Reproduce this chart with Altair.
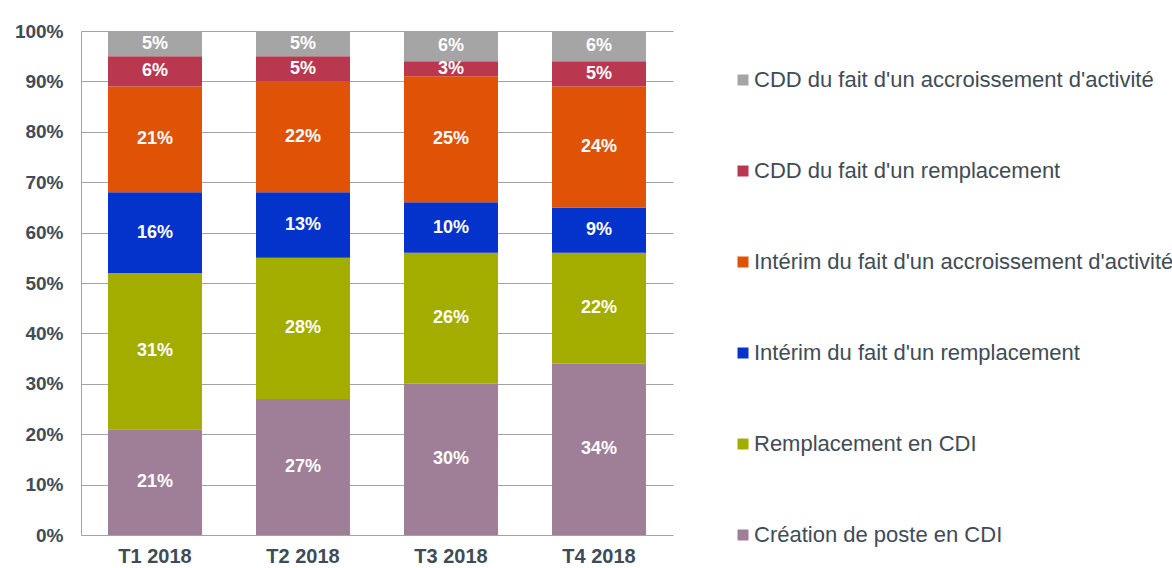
import altair as alt
import pandas as pd

quarters = ["T1 2018", "T2 2018", "T3 2018", "T4 2018"]

# series listed from bottom of the stack to the top
series = [
    "Création de poste en CDI",
    "Remplacement en CDI",
    "Intérim du fait d'un remplacement",
    "Intérim du fait d'un accroissement d'activité",
    "CDD du fait d'un remplacement",
    "CDD du fait d'un accroissement d'activité",
]
colors = ["#9f7e98", "#a2ad00", "#0433cc", "#e05206", "#b9374f", "#a5a5a5"]

creation_cdi = [21, 27, 30, 34]
remplacement_cdi = [31, 28, 26, 22]
interim_remplacement = [16, 13, 10, 9]
interim_accroissement = [21, 22, 25, 24]
cdd_remplacement = [6, 5, 3, 5]
cdd_accroissement = [5, 5, 6, 6]

series_values = [
    creation_cdi,
    remplacement_cdi,
    interim_remplacement,
    interim_accroissement,
    cdd_remplacement,
    cdd_accroissement,
]

rows = []
for idx, (name, vals) in enumerate(zip(series, series_values)):
    for q, v in zip(quarters, vals):
        rows.append({"quarter": q, "series": name, "idx": idx, "frac": v / 100})
df = pd.DataFrame(rows)

FONT = "Liberation Sans"
TXT = "#414b56"
GRID = "#a3a3a3"

legend_order = series[::-1]
legend_colors = colors[::-1]

x_enc = alt.X(
    "quarter:N",
    sort=quarters,
    scale=alt.Scale(paddingInner=0.365, paddingOuter=0.1825),
    axis=alt.Axis(
        title=None,
        labelAngle=0,
        labelFontSize=20,
        labelFontWeight="bold",
        labelColor=TXT,
        labelFont=FONT,
        ticks=False,
        domain=False,
        labelPadding=11,
    ),
)

base = alt.Chart(df)

bars = base.mark_bar().encode(
    x=x_enc,
    y=alt.Y(
        "frac:Q",
        stack="zero",
        scale=alt.Scale(domain=[0, 1]),
        axis=alt.Axis(
            title=None,
            format=".0%",
            values=[i / 10 for i in range(11)],
            labelFontSize=19,
            labelFontWeight="bold",
            labelColor=TXT,
            labelFont=FONT,
            ticks=False,
            labelPadding=18,
            domain=True,
            domainColor=GRID,
            grid=True,
            gridColor=GRID,
            gridWidth=1,
        ),
    ),
    color=alt.Color(
        "series:N",
        scale=alt.Scale(domain=legend_order, range=legend_colors),
        legend=alt.Legend(
            title=None,
            orient="none",
            legendX=651,
            legendY=38,
            symbolType="square",
            symbolSize=121,
            symbolStrokeWidth=0,
            labelFontSize=22,
            labelFont=FONT,
            labelColor=TXT,
            labelLimit=0,
            rowPadding=69,
            labelOffset=0,
            padding=0,
        ),
    ),
    order=alt.Order("idx:Q", sort="ascending"),
)

labels = (
    base.transform_stack(
        stack="frac",
        groupby=["quarter"],
        as_=["y0", "y1"],
        sort=[alt.SortField("idx", order="ascending")],
    )
    .transform_calculate(mid="(datum.y0 + datum.y1) / 2")
    .mark_text(color="white", fontWeight="bold", fontSize=18, font=FONT, baseline="middle")
    .encode(
        x=alt.X("quarter:N", sort=quarters),
        y=alt.Y("mid:Q"),
        text=alt.Text("frac:Q", format=".0%"),
    )
)

chart = (
    alt.layer(bars, labels)
    .properties(
        width=592,
        height=504,
        autosize=alt.AutoSizeParams(type="none"),
        padding={"left": 81, "top": 31, "right": 499, "bottom": 33},
    )
    .configure_view(stroke=None)
)

chart.save("out.html", embed_options={"renderer": "svg", "actions": False})
